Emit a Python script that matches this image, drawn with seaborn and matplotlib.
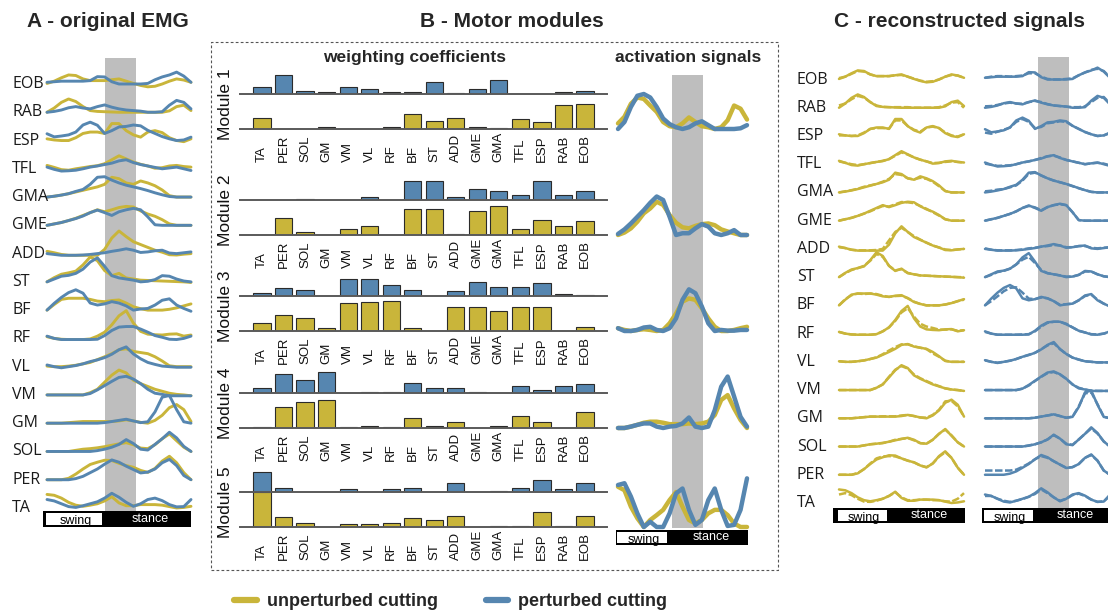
import numpy as np
import matplotlib
matplotlib.use("Agg")
import matplotlib.pyplot as plt
import seaborn as sns
from matplotlib.patches import Rectangle
from matplotlib.lines import Line2D

# ---------------------------------------------------------------- data
PCT = list(range(0, 101, 5))            # % of cycle
ROWS = ["EOB", "RAB", "ESP", "TFL", "GMA", "GME", "ADD", "ST",
        "BF", "RF", "VL", "VM", "GM", "SOL", "PER", "TA"]
MUSCLES = ["TA", "PER", "SOL", "GM", "VM", "VL", "RF", "BF", "ST",
           "ADD", "GME", "GMA", "TFL", "ESP", "RAB", "EOB"]
SWING = (0, 40)
BAND_A = (40, 62)
BAND_ACT = (42, 66)
BAND_C = (42, 67)

emg_unperturbed = {
    "EOB": [0.02, 0.1, 0.22, 0.32, 0.3, 0.18, 0.12, 0.12, 0.12, 0.15, 0.18, 0.1, 0.02, -0.05, -0.1, -0.08, 0.0, 0.1, 0.18, 0.14, 0.06],
    "RAB": [0.0, 0.15, 0.35, 0.47, 0.38, 0.2, 0.06, 0.03, 0.02, 0.01, 0.0, 0.0, 0.0, 0.0, 0.0, 0.0, 0.0, 0.05, 0.2, 0.25, 0.06],
    "ESP": [0.06, 0.02, 0.0, 0.0, 0.1, 0.25, 0.3, 0.3, 0.25, 0.6, 0.6, 0.35, 0.2, 0.12, 0.3, 0.35, 0.28, 0.1, 0.0, -0.04, 0.06],
    "TFL": [0.12, 0.05, -0.03, -0.05, 0.0, 0.04, 0.08, 0.11, 0.18, 0.32, 0.46, 0.35, 0.24, 0.16, 0.1, 0.02, 0.04, 0.1, 0.12, 0.08, 0.06],
    "GMA": [0.0, 0.03, 0.07, 0.12, 0.18, 0.24, 0.3, 0.36, 0.45, 0.7, 0.65, 0.5, 0.45, 0.57, 0.5, 0.4, 0.25, 0.05, 0.0, 0.0, 0.0],
    "GME": [0.0, 0.05, 0.1, 0.17, 0.25, 0.35, 0.45, 0.55, 0.48, 0.55, 0.63, 0.67, 0.65, 0.51, 0.4, 0.32, 0.2, 0.05, 0.0, 0.0, 0.0],
    "ADD": [0.08, 0.03, -0.03, -0.06, -0.06, -0.06, -0.06, -0.06, 0.15, 0.55, 0.8, 0.6, 0.42, 0.32, 0.22, 0.12, 0.05, -0.04, -0.05, -0.02, 0.0],
    "ST":  [0.0, 0.15, 0.27, 0.32, 0.38, 0.6, 0.88, 0.75, 0.4, 0.22, 0.3, 0.14, 0.1, 0.06, 0.05, 0.04, 0.03, 0.02, 0.01, 0.0, -0.02],
    "BF":  [0.0, 0.2, 0.38, 0.42, 0.42, 0.42, 0.38, 0.32, 0.3, 0.34, 0.36, 0.25, 0.12, 0.05, 0.0, 0.0, 0.0, 0.03, 0.08, 0.15, 0.22],
    "RF":  [0.06, 0.0, -0.03, -0.04, -0.04, -0.04, -0.02, 0.08, 0.22, 0.48, 0.8, 0.98, 0.54, 0.25, 0.15, 0.13, 0.12, 0.15, 0.16, 0.08, 0.12],
    "VL":  [0.02, 0.0, 0.0, 0.02, 0.05, 0.1, 0.15, 0.25, 0.35, 0.46, 0.6, 0.63, 0.54, 0.5, 0.46, 0.35, 0.2, 0.03, 0.0, 0.0, 0.0],
    "VM":  [0.0, 0.0, 0.0, 0.0, 0.0, 0.0, 0.08, 0.2, 0.45, 0.7, 0.88, 0.78, 0.52, 0.4, 0.3, 0.2, 0.13, 0.06, 0.02, 0.0, -0.03],
    "GM":  [0.0, 0.0, 0.0, 0.02, 0.04, 0.06, 0.06, 0.06, 0.06, 0.06, 0.08, 0.12, 0.08, 0.03, 0.0, 0.1, 0.28, 0.55, 0.66, 0.48, 0.06],
    "SOL": [0.0, 0.0, 0.0, 0.0, 0.04, 0.08, 0.1, 0.13, 0.17, 0.22, 0.27, 0.31, 0.24, 0.12, 0.1, 0.24, 0.45, 0.62, 0.38, 0.15, 0.0],
    "PER": [0.0, 0.0, 0.0, 0.05, 0.2, 0.38, 0.54, 0.62, 0.69, 0.68, 0.58, 0.5, 0.44, 0.33, 0.26, 0.4, 0.66, 0.83, 0.6, 0.25, 0.0],
    "TA":  [0.48, 0.45, 0.35, 0.2, 0.1, 0.06, 0.1, 0.15, 0.25, 0.4, 0.18, 0.08, 0.08, 0.12, 0.12, 0.12, 0.1, 0.05, 0.0, 0.02, 0.06],
}
emg_perturbed = {
    "EOB": [0.06, 0.08, 0.1, 0.1, 0.1, 0.1, 0.12, 0.26, 0.25, 0.08, 0.0, 0.0, 0.0, 0.0, 0.02, 0.15, 0.25, 0.32, 0.42, 0.28, 0.06],
    "RAB": [0.0, 0.03, 0.08, 0.16, 0.2, 0.15, 0.12, 0.2, 0.26, 0.18, 0.12, 0.08, 0.06, 0.04, 0.0, 0.0, 0.02, 0.25, 0.42, 0.35, 0.12],
    "ESP": [0.24, 0.13, 0.16, 0.2, 0.3, 0.55, 0.65, 0.54, 0.25, 0.35, 0.48, 0.5, 0.55, 0.52, 0.36, 0.25, 0.14, 0.06, 0.0, 0.02, 0.12],
    "TFL": [0.06, -0.02, -0.08, -0.07, -0.05, 0.0, 0.06, 0.1, 0.15, 0.2, 0.28, 0.32, 0.22, 0.15, 0.1, 0.05, 0.0, 0.03, 0.06, 0.0, -0.06],
    "GMA": [0.0, 0.03, 0.07, 0.12, 0.2, 0.27, 0.45, 0.7, 0.72, 0.6, 0.5, 0.42, 0.36, 0.3, 0.23, 0.15, 0.08, 0.02, 0.0, 0.0, 0.0],
    "GME": [0.0, 0.05, 0.1, 0.17, 0.24, 0.33, 0.45, 0.54, 0.45, 0.35, 0.48, 0.55, 0.6, 0.55, 0.3, 0.02, 0.0, 0.0, 0.0, 0.0, 0.0],
    "ADD": [0.0, -0.03, -0.06, -0.06, -0.06, -0.05, -0.03, 0.0, 0.03, 0.08, 0.12, 0.17, 0.12, 0.04, 0.06, 0.1, 0.12, 0.02, 0.0, 0.03, 0.06],
    "ST":  [0.0, 0.1, 0.2, 0.23, 0.3, 0.45, 0.7, 0.85, 0.55, 0.22, 0.14, 0.1, 0.06, 0.0, 0.02, 0.08, 0.22, 0.2, 0.1, 0.03, 0.0],
    "BF":  [0.0, 0.24, 0.45, 0.62, 0.72, 0.6, 0.25, 0.18, 0.22, 0.3, 0.25, 0.15, 0.0, 0.04, 0.06, 0.18, 0.35, 0.4, 0.18, 0.06, -0.04],
    "RF":  [0.08, 0.0, -0.04, -0.04, -0.04, -0.04, -0.04, -0.03, 0.1, 0.28, 0.4, 0.42, 0.42, 0.33, 0.22, 0.1, 0.04, -0.03, -0.04, 0.0, 0.08],
    "VL":  [0.06, 0.0, -0.04, 0.0, 0.04, 0.1, 0.18, 0.24, 0.32, 0.44, 0.6, 0.7, 0.45, 0.28, 0.15, 0.08, 0.02, 0.0, -0.02, -0.02, -0.02],
    "VM":  [0.0, 0.0, 0.0, 0.0, 0.0, 0.0, 0.05, 0.18, 0.33, 0.48, 0.62, 0.66, 0.56, 0.4, 0.2, 0.06, 0.02, -0.03, -0.03, -0.03, -0.03],
    "GM":  [0.0, 0.0, 0.0, 0.0, 0.0, 0.0, 0.0, 0.0, 0.02, 0.06, 0.1, 0.14, 0.08, 0.02, 0.05, 0.4, 0.92, 0.98, 0.48, 0.05, 0.0],
    "SOL": [0.0, 0.0, 0.0, 0.0, 0.0, 0.0, 0.0, 0.03, 0.08, 0.15, 0.25, 0.42, 0.28, 0.08, 0.05, 0.25, 0.45, 0.68, 0.48, 0.18, 0.0],
    "PER": [0.0, 0.0, 0.0, 0.0, 0.04, 0.12, 0.25, 0.38, 0.55, 0.7, 0.62, 0.48, 0.36, 0.24, 0.27, 0.38, 0.6, 0.72, 0.5, 0.15, 0.0],
    "TA":  [0.3, 0.25, 0.15, 0.05, 0.02, 0.08, 0.15, 0.22, 0.35, 0.52, 0.38, 0.2, 0.06, 0.15, 0.3, 0.35, 0.26, 0.12, 0.04, 0.05, 0.3],
}
recon_unperturbed = {
    "EOB": [0.05, 0.1, 0.2, 0.3, 0.28, 0.18, 0.12, 0.12, 0.12, 0.15, 0.16, 0.1, 0.03, -0.04, -0.08, -0.06, 0.0, 0.1, 0.16, 0.14, 0.06],
    "RAB": [0.08, 0.15, 0.3, 0.42, 0.36, 0.2, 0.08, 0.03, 0.02, 0.02, 0.02, 0.02, 0.0, 0.0, 0.0, 0.0, 0.02, 0.08, 0.18, 0.2, 0.0],
    "ESP": [0.02, 0.02, 0.0, 0.02, 0.12, 0.25, 0.28, 0.28, 0.26, 0.55, 0.55, 0.35, 0.22, 0.15, 0.3, 0.33, 0.28, 0.12, 0.02, -0.02, 0.06],
    "TFL": [0.1, 0.05, 0.0, -0.03, 0.0, 0.04, 0.08, 0.12, 0.18, 0.3, 0.42, 0.34, 0.24, 0.16, 0.1, 0.04, 0.05, 0.08, 0.1, 0.08, 0.06],
    "GMA": [0.0, 0.04, 0.08, 0.13, 0.2, 0.25, 0.3, 0.38, 0.48, 0.65, 0.62, 0.5, 0.46, 0.52, 0.48, 0.38, 0.22, 0.05, 0.0, 0.0, 0.0],
    "GME": [0.0, 0.05, 0.1, 0.17, 0.25, 0.33, 0.43, 0.52, 0.5, 0.58, 0.66, 0.65, 0.62, 0.52, 0.42, 0.3, 0.18, 0.05, 0.0, 0.0, 0.0],
    "ADD": [0.06, 0.03, -0.03, -0.05, -0.05, -0.05, -0.04, 0.0, 0.3, 0.6, 0.75, 0.6, 0.45, 0.33, 0.22, 0.12, 0.05, -0.02, -0.04, -0.02, 0.0],
    "ST":  [0.0, 0.14, 0.25, 0.32, 0.4, 0.58, 0.82, 0.72, 0.4, 0.24, 0.28, 0.15, 0.1, 0.06, 0.05, 0.04, 0.03, 0.02, 0.01, 0.0, 0.0],
    "BF":  [0.0, 0.22, 0.36, 0.42, 0.4, 0.42, 0.4, 0.34, 0.3, 0.33, 0.34, 0.26, 0.13, 0.05, 0.0, 0.0, 0.0, 0.03, 0.08, 0.15, 0.2],
    "RF":  [0.06, 0.0, -0.03, -0.04, -0.04, -0.04, -0.02, 0.08, 0.22, 0.45, 0.75, 0.9, 0.6, 0.35, 0.25, 0.2, 0.14, 0.14, 0.15, 0.1, 0.12],
    "VL":  [0.02, 0.0, 0.0, 0.02, 0.05, 0.1, 0.16, 0.27, 0.4, 0.52, 0.62, 0.62, 0.55, 0.5, 0.45, 0.3, 0.18, 0.04, 0.0, 0.0, 0.0],
    "VM":  [0.0, 0.0, 0.0, 0.0, 0.0, 0.0, 0.08, 0.2, 0.47, 0.72, 0.85, 0.76, 0.55, 0.42, 0.32, 0.22, 0.14, 0.06, 0.02, 0.0, -0.03],
    "GM":  [0.0, 0.0, 0.0, 0.02, 0.04, 0.06, 0.06, 0.07, 0.07, 0.07, 0.1, 0.12, 0.08, 0.03, 0.02, 0.12, 0.3, 0.6, 0.62, 0.42, 0.06],
    "SOL": [0.0, 0.0, 0.0, 0.0, 0.04, 0.08, 0.1, 0.12, 0.17, 0.24, 0.27, 0.3, 0.22, 0.12, 0.1, 0.24, 0.45, 0.6, 0.4, 0.15, 0.0],
    "PER": [0.0, 0.0, 0.0, 0.06, 0.2, 0.4, 0.58, 0.65, 0.66, 0.65, 0.58, 0.5, 0.44, 0.33, 0.27, 0.4, 0.64, 0.8, 0.6, 0.25, 0.0],
    "TA":  [0.3, 0.35, 0.28, 0.15, 0.05, 0.04, 0.08, 0.15, 0.25, 0.38, 0.2, 0.1, 0.1, 0.12, 0.12, 0.1, 0.1, 0.06, 0.05, 0.15, 0.35],
}
recon_perturbed = {
    "EOB": [0.06, 0.1, 0.12, 0.12, 0.1, 0.12, 0.14, 0.22, 0.22, 0.1, 0.02, 0.0, 0.0, 0.02, 0.04, 0.15, 0.25, 0.34, 0.38, 0.3, 0.08],
    "RAB": [0.05, 0.06, 0.1, 0.15, 0.18, 0.15, 0.14, 0.2, 0.24, 0.2, 0.13, 0.08, 0.06, 0.04, 0.02, 0.02, 0.05, 0.2, 0.35, 0.38, 0.15],
    "ESP": [0.12, 0.08, 0.15, 0.22, 0.3, 0.5, 0.6, 0.5, 0.28, 0.32, 0.45, 0.48, 0.52, 0.5, 0.36, 0.25, 0.14, 0.06, 0.0, 0.02, 0.1],
    "TFL": [0.02, -0.02, -0.06, -0.05, -0.04, 0.0, 0.06, 0.1, 0.15, 0.22, 0.28, 0.3, 0.24, 0.15, 0.1, 0.05, 0.0, 0.03, 0.05, 0.02, -0.04],
    "GMA": [0.04, 0.06, 0.1, 0.12, 0.18, 0.25, 0.42, 0.66, 0.7, 0.6, 0.5, 0.42, 0.36, 0.3, 0.22, 0.15, 0.08, 0.02, 0.0, 0.0, 0.0],
    "GME": [0.0, 0.05, 0.1, 0.17, 0.24, 0.33, 0.45, 0.52, 0.47, 0.37, 0.48, 0.55, 0.58, 0.55, 0.3, 0.02, 0.0, 0.0, 0.0, 0.0, 0.0],
    "ADD": [0.02, -0.03, -0.05, -0.05, -0.05, -0.04, -0.02, 0.02, 0.04, 0.08, 0.1, 0.14, 0.12, 0.06, 0.06, 0.1, 0.1, 0.04, 0.02, 0.04, 0.06],
    "ST":  [0.0, 0.08, 0.18, 0.22, 0.3, 0.45, 0.62, 0.72, 0.5, 0.25, 0.14, 0.1, 0.06, 0.02, 0.02, 0.08, 0.2, 0.2, 0.1, 0.03, 0.0],
    "BF":  [0.0, 0.15, 0.32, 0.5, 0.62, 0.64, 0.45, 0.24, 0.22, 0.28, 0.25, 0.15, 0.02, 0.04, 0.06, 0.18, 0.33, 0.38, 0.2, 0.06, -0.02],
    "RF":  [0.06, 0.0, -0.04, -0.04, -0.04, -0.04, -0.03, -0.02, 0.08, 0.25, 0.38, 0.42, 0.42, 0.35, 0.22, 0.1, 0.04, -0.02, -0.03, 0.0, 0.06],
    "VL":  [0.05, 0.0, -0.03, 0.0, 0.04, 0.1, 0.18, 0.25, 0.32, 0.45, 0.58, 0.66, 0.45, 0.28, 0.15, 0.08, 0.02, 0.0, -0.02, -0.02, -0.02],
    "VM":  [0.0, 0.0, 0.0, 0.0, 0.0, 0.0, 0.05, 0.16, 0.32, 0.47, 0.6, 0.64, 0.55, 0.4, 0.2, 0.08, 0.02, -0.02, -0.03, -0.03, -0.03],
    "GM":  [0.0, 0.0, 0.0, 0.0, 0.0, 0.0, 0.0, 0.0, 0.02, 0.06, 0.1, 0.14, 0.08, 0.02, 0.06, 0.42, 0.88, 0.92, 0.5, 0.06, 0.0],
    "SOL": [0.0, 0.0, 0.0, 0.0, 0.0, 0.0, 0.0, 0.04, 0.08, 0.15, 0.25, 0.4, 0.28, 0.1, 0.06, 0.25, 0.45, 0.64, 0.46, 0.18, 0.0],
    "PER": [0.15, 0.15, 0.15, 0.15, 0.15, 0.18, 0.28, 0.4, 0.55, 0.66, 0.6, 0.48, 0.36, 0.25, 0.27, 0.38, 0.6, 0.7, 0.5, 0.15, 0.0],
    "TA":  [0.25, 0.25, 0.15, 0.08, 0.04, 0.08, 0.14, 0.22, 0.32, 0.48, 0.35, 0.2, 0.08, 0.15, 0.28, 0.33, 0.25, 0.12, 0.04, 0.06, 0.25],
}

# weighting coefficients (order = MUSCLES)
W1_UNP = [0.32, 0, 0, 0.07, 0, 0, 0.05, 0.44, 0.24, 0.32, 0.07, 0.03, 0.29, 0.19, 0.69, 0.72]
W1_PER = [0.21, 0.53, 0.09, 0.05, 0.21, 0.14, 0.05, 0.05, 0.34, 0.02, 0.14, 0.40, 0, 0, 0.07, 0.09]
W2_UNP = [0, 0.49, 0.08, 0, 0.16, 0.25, 0, 0.73, 0.73, 0.03, 0.69, 0.84, 0.16, 0.42, 0.25, 0.39]
W2_PER = [0, 0, 0.02, 0, 0, 0.1, 0, 0.53, 0.53, 0.1, 0.31, 0.25, 0.13, 0.53, 0.14, 0.25]
W3_UNP = [0.22, 0.46, 0.37, 0.09, 0.79, 0.82, 0.85, 0.09, 0, 0.68, 0.68, 0.57, 0.68, 0.68, 0, 0.11]
W3_PER = [0.08, 0.22, 0.18, 0, 0.49, 0.49, 0.32, 0.18, 0, 0.13, 0.39, 0.26, 0.26, 0.37, 0.06, 0.04]
W4_UNP = [0.03, 0.6, 0.74, 0.81, 0.03, 0.05, 0.03, 0.29, 0.07, 0.18, 0, 0.05, 0.33, 0.18, 0, 0.45]
W4_PER = [0.13, 0.54, 0.38, 0.61, 0, 0.02, 0.02, 0.28, 0.13, 0.13, 0.02, 0, 0.2, 0.09, 0.2, 0.26]
W5_UNP = [1.0, 0.28, 0.12, 0, 0.09, 0.09, 0.12, 0.25, 0.19, 0.31, 0, 0.04, 0.04, 0.44, 0.02, 0.31]
W5_PER = [0.57, 0.12, 0, 0, 0.09, 0, 0.09, 0.12, 0, 0.26, 0, 0.03, 0.12, 0.35, 0.09, 0.26]

# activation signals
ACT1_UNP = [0.16, 0.35, 0.72, 0.9, 0.86, 0.67, 0.49, 0.2, 0.08, 0.05, 0.16, 0.33, 0.2, 0.08, 0.05, 0.0, 0.05, 0.25, 0.67, 0.58, 0.27]
ACT1_PER = [0.0, 0.2, 0.63, 0.95, 1.0, 0.9, 0.63, 0.3, 0.14, 0.05, 0.0, 0.05, 0.16, 0.22, 0.11, 0.0, 0.0, 0.0, 0.0, 0.02, 0.11]
ACT2_UNP = [0.0, 0.07, 0.19, 0.38, 0.62, 0.76, 0.95, 0.86, 0.57, 0.35, 0.22, 0.19, 0.26, 0.31, 0.33, 0.28, 0.16, 0.1, 0.05, 0.0, 0.0]
ACT2_PER = [0.03, 0.16, 0.33, 0.52, 0.71, 0.92, 1.1, 1.0, 0.52, 0.0, 0.05, 0.05, 0.19, 0.31, 0.24, 0.05, 0.0, 0.05, 0.14, 0.0, 0.0]
ACT3_UNP = [0.08, 0.03, 0.0, 0.03, 0.05, 0.03, 0.0, 0.03, 0.22, 0.5, 0.84, 0.93, 0.89, 0.65, 0.36, 0.12, 0.0, 0.0, 0.03, 0.08, 0.12]
ACT3_PER = [0.08, 0.0, 0.0, 0.03, 0.1, 0.12, 0.03, 0.0, 0.08, 0.36, 0.89, 1.19, 1.08, 0.7, 0.22, 0.0, 0.03, 0.01, 0.01, 0.03, 0.03]
ACT4_UNP = [0.0, 0.0, 0.04, 0.09, 0.15, 0.18, 0.18, 0.15, 0.11, 0.11, 0.11, 0.13, 0.11, 0.13, 0.18, 0.37, 0.8, 0.94, 0.56, 0.23, 0.0]
ACT4_PER = [0.0, 0.0, 0.04, 0.09, 0.13, 0.13, 0.04, 0.0, 0.04, 0.06, 0.13, 0.3, 0.04, 0.0, 0.04, 0.51, 1.18, 1.47, 0.9, 0.32, 0.04]
ACT5_UNP = [1.15, 1.05, 0.58, 0.25, 0.0, 0.2, 0.34, 0.49, 0.77, 1.0, 0.58, 0.2, 0.1, 0.2, 0.39, 0.49, 0.49, 0.34, 0.1, 0.0, 0.0]
ACT5_PER = [1.2, 1.25, 0.87, 0.39, 0.0, 0.15, 0.0, 0.0, 0.39, 0.96, 1.1, 0.49, 0.06, 0.2, 0.77, 1.1, 0.49, 0.03, 0.06, 0.49, 1.39]

W_UNP = [W1_UNP, W2_UNP, W3_UNP, W4_UNP, W5_UNP]
W_PER = [W1_PER, W2_PER, W3_PER, W4_PER, W5_PER]
A_UNP = [ACT1_UNP, ACT2_UNP, ACT3_UNP, ACT4_UNP, ACT5_UNP]
A_PER = [ACT1_PER, ACT2_PER, ACT3_PER, ACT4_PER, ACT5_PER]

# ---------------------------------------------------------------- style
W, H = 1108, 615
sns.set_style("white")
plt.rcParams['font.family'] = ['Liberation Sans', 'DejaVu Sans']
YEL = "#C9B53A"
BLU = "#5686B0"
GRAY = "#BEBEBE"
LABEL_FONT = ['Open Sans', 'DejaVu Sans']

fig = plt.figure(figsize=(W / 100, H / 100), dpi=100)


def px_axes(l, t, r, b, z=1):
    ax = fig.add_axes([l / W, 1 - b / H, (r - l) / W, (b - t) / H], zorder=z)
    ax.patch.set_alpha(0)
    return ax


def ftext(x, y, s, **kw):
    fig.text(x / W, 1 - y / H, s, **kw)


def line(ax, y, color, lw, ls='-'):
    sns.lineplot(x=PCT, y=y, ax=ax, color=color, lw=lw, linestyle=ls,
                 legend=False, estimator=None, sort=False, clip_on=False)


def phase_bar(x0, x1, l, r, t, b):
    ppx = (x1 - x0) / 100.0
    ax = px_axes(l, t, r, b, z=5)
    xl = ((l - x0) / ppx, (r - x0) / ppx)
    ax.set_xlim(*xl)
    ax.set_ylim(0, 1)
    ax.axis('off')
    ax.add_patch(Rectangle((xl[0], 0), xl[1] - xl[0], 1, color='black', lw=0))
    ax.add_patch(Rectangle((SWING[0] - 0.5, 0.14), SWING[1] - SWING[0] - 1.5, 0.72,
                           color='white', lw=0))
    ax.text((SWING[0] + SWING[1]) / 2, 0.36, 'swing', ha='center', va='center',
            fontsize=9, color='black')
    ax.text((SWING[1] + 100) / 2 + 2, 0.5, 'stance', ha='center', va='center',
            fontsize=9, color='white')


def trace_panel(x0, x1, yb0, yb15, sets, band=None, band_t=57, band_b=510,
                label_x=None):
    ppx = (x1 - x0) / 100.0
    unit = (yb15 - yb0) / 15.0
    l, r, t, b = x0 - 8, x1 + 8, 40, 540
    ax = px_axes(l, t, r, b, z=2)
    if band is not None:
        ax.fill_between(list(band), -(band_b - yb0) / unit, (yb0 - band_t) / unit,
                        color=GRAY, lw=0, zorder=0)
    for k, m in enumerate(ROWS):
        for series, color, lw, ls in sets:
            line(ax, np.array(series[m]) - k, color, lw, ls)
        if label_x is not None:
            ftext(label_x, yb0 + k * unit, m, ha='left', va='center',
                  fontsize=11.5, family=LABEL_FONT, color='#1a1a1a')
    ax.set_xlim((l - x0) / ppx, (r - x0) / ppx)
    ax.set_ylim(-(b - yb0) / unit, (yb0 - t) / unit)
    ax.axis('off')
    return ax


# ---------------------------------------------------------------- panel A
trace_panel(47, 191, 84, 508,
            [(emg_unperturbed, YEL, 2.1, '-'), (emg_perturbed, BLU, 2.1, '-')],
            band=BAND_A, band_t=58, band_b=511, label_x=12)
phase_bar(47, 191, 43, 191, 511, 527)
ftext(108, 27, "A - original EMG", ha='center', va='baseline', fontsize=15,
      fontweight='bold')

# ---------------------------------------------------------------- panel B
fig.add_artist(Rectangle((211 / W, 1 - 570 / H), (778 - 211) / W, (570 - 42) / H,
                         transform=fig.transFigure, fill=False, lw=0.8,
                         ls=(0, (2.5, 2)), ec='#555555'))
ftext(512, 27, "B - Motor modules", ha='center', va='baseline', fontsize=15,
      fontweight='bold')
ftext(415, 62, "weighting coefficients", ha='center', va='baseline', fontsize=12.5,
      fontweight='bold')
ftext(688, 62, "activation signals", ha='center', va='baseline', fontsize=12.5,
      fontweight='bold')

MOD_BASE = [129, 235, 331, 428, 527]
UB = 35.0
BL, BR = 240.5, 606.5
for m in range(5):
    yb = MOD_BASE[m]
    axy = px_axes(BL, yb - UB, BR, yb, z=1)
    sns.barplot(x=MUSCLES, y=W_UNP[m], ax=axy, color=YEL, saturation=1,
                edgecolor='#2b2b2b', linewidth=0.8, width=0.8)
    axb = px_axes(BL, yb - UB - 0.72 * UB, BR, yb - UB, z=1)
    sns.barplot(x=MUSCLES, y=W_PER[m], ax=axb, color=BLU, saturation=1,
                edgecolor='#2b2b2b', linewidth=0.8, width=0.8)
    for ax, top in ((axy, 1.0), (axb, 0.72)):
        ax.set_xlim(-1, 16)
        ax.set_ylim(0, top)
        ax.set_xlabel('')
        ax.set_ylabel('')
        ax.set_yticks([])
        ax.set_xticks([])
        for s in ('left', 'right', 'top'):
            ax.spines[s].set_visible(False)
        ax.spines['bottom'].set_color('#5a5a5a')
        ax.spines['bottom'].set_linewidth(1.4)
    for i, name in enumerate(MUSCLES):
        axy.text(i, -33 / UB, name, rotation=90, ha='center', va='bottom',
                 fontsize=9.5, color='#111111', transform=axy.get_xaxis_transform())
    ftext(226, yb - 25, f"Module {m + 1}", rotation=90, ha='center', va='center',
          fontsize=12.5, color='#111111')

# activation signals
AX0, AX1 = 618, 747
axband = px_axes(AX0, 75, AX1, 528, z=0)
axband.fill_between(list(BAND_ACT), 0, 1, color=GRAY, lw=0)
axband.set_xlim(0, 100)
axband.set_ylim(0, 1)
axband.axis('off')
for m in range(5):
    yb = MOD_BASE[m]
    ax = px_axes(AX0, yb - 60, AX1, yb + 5, z=3)
    line(ax, A_UNP[m], YEL, 3.2)
    line(ax, A_PER[m], BLU, 3.2)
    ax.set_xlim(0, 100)
    ax.set_ylim(-5 / UB, 60 / UB)
    ax.axis('off')
phase_bar(AX0, AX1, 616, 748, 530, 545)

# ---------------------------------------------------------------- panel C
ftext(960, 27, "C - reconstructed signals", ha='center', va='baseline',
      fontsize=15, fontweight='bold')
trace_panel(839, 964, 79.5, 503,
            [(emg_unperturbed, YEL, 1.8, '-'), (recon_unperturbed, YEL, 1.8, (0, (3, 1)))],
            label_x=797)
trace_panel(985, 1110, 79.5, 503,
            [(emg_perturbed, BLU, 1.8, '-'), (recon_perturbed, BLU, 1.8, (0, (3, 1)))],
            band=BAND_C, band_t=57, band_b=508)
phase_bar(839, 964, 833, 965, 508, 523)
phase_bar(985, 1110, 982, 1115, 508, 523)

# ---------------------------------------------------------------- legend
handles = [Line2D([], [], color=YEL, lw=4.5), Line2D([], [], color=BLU, lw=4.5)]
fig.legend(handles, ["unperturbed cutting", "perturbed cutting"],
           loc='center left', bbox_to_anchor=(218 / W, 1 - 602 / H), ncol=2,
           frameon=False, handlelength=1.25, handletextpad=0.55, columnspacing=2.65,
           prop={'weight': 'bold', 'size': 13, 'family': 'Liberation Sans'})

fig.savefig("out.png", dpi=100)
